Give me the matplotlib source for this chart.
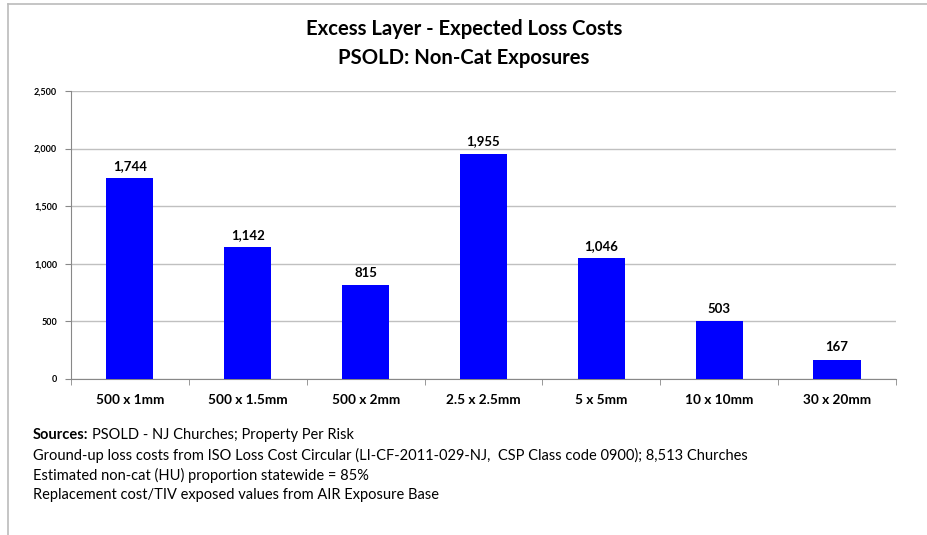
import matplotlib.pyplot as plt
from matplotlib.lines import Line2D
from matplotlib.ticker import FuncFormatter

# layers and expected loss costs
layers = ['500 x 1mm', '500 x 1.5mm', '500 x 2mm', '2.5 x 2.5mm', '5 x 5mm', '10 x 10mm', '30 x 20mm']
loss_costs = [1744, 1142, 815, 1955, 1046, 503, 167]
y_ticks = [0, 500, 1000, 1500, 2000, 2500]

title = 'Excess Layer - Expected Loss Costs\nPSOLD: Non-Cat Exposures'
notes = ['Ground-up loss costs from ISO Loss Cost Circular (LI-CF-2011-029-NJ,  CSP Class code 0900); 8,513 Churches',
         'Estimated non-cat (HU) proportion statewide = 85%',
         'Replacement cost/TIV exposed values from AIR Exposure Base']

plt.rcParams['font.family'] = ['Lato', 'DejaVu Sans']

fig = plt.figure(figsize=(9.28, 5.35), dpi=100)
ax = fig.add_axes([0.0765, 0.2916, 0.889, 0.5383])

xs = range(len(layers))
ax.bar(xs, loss_costs, width=0.4, color='#0000ff', zorder=3)
for x, v in zip(xs, loss_costs):
    ax.text(x, v + 55, f'{v:,}', ha='center', va='bottom', fontsize=9.5, fontweight='bold')

ax.set_xlim(-0.5, len(layers) - 0.5)
ax.set_ylim(0, 2500)
ax.set_yticks(y_ticks)
ax.yaxis.set_major_formatter(FuncFormatter(lambda v, p: f'{int(v):,}'))
ax.yaxis.grid(True, color='#c0c0c0', lw=1, zorder=0)
ax.set_xticks(list(xs))
ax.set_xticklabels(layers, fontsize=9.8, fontweight='bold')
ax.set_xticks([i + 0.5 for i in range(-1, len(layers))], minor=True)
ax.tick_params(axis='x', which='major', length=0, pad=11)
ax.tick_params(axis='x', which='minor', length=4, color='#888888')
ax.tick_params(axis='y', labelsize=6.5, length=4, color='#888888', pad=6)
for lbl in ax.get_yticklabels():
    lbl.set_fontweight('bold')
for s in ['top', 'right']:
    ax.spines[s].set_visible(False)
ax.spines['left'].set_color('#888888')
ax.spines['bottom'].set_color('#888888')

fig.text(0.5, 0.965, title, ha='center', va='top', fontsize=14.6, fontweight='bold', linespacing=1.55)

# footnotes
fs = 10.5
src = fig.text(0.0355, 1 - 435 / 535, 'Sources:', fontsize=fs, fontweight='bold', va='center')
fig.canvas.draw()
bb = src.get_window_extent().transformed(fig.transFigure.inverted())
fig.text(bb.x1 + 0.004, 1 - 435 / 535, 'PSOLD - NJ Churches; Property Per Risk', fontsize=fs, va='center')
for i, line in enumerate(notes):
    fig.text(0.0355, 1 - (455 + i * 20) / 535, line, fontsize=fs, va='center')

# outer frame lines (top and left)
fig.add_artist(Line2D([0.0086, 1.0], [0.993, 0.993], color='#bbbbbb', lw=1.2, transform=fig.transFigure))
fig.add_artist(Line2D([0.0086, 0.0086], [0.0, 0.993], color='#bbbbbb', lw=1.2, transform=fig.transFigure))

fig.savefig('out.png', dpi=100)
